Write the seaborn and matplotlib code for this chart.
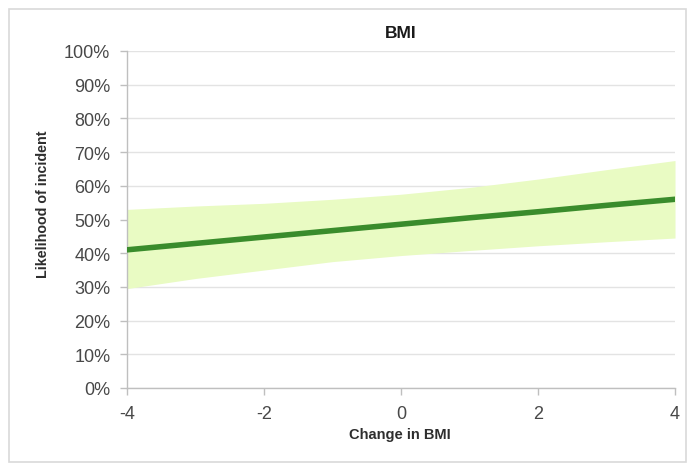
import matplotlib
matplotlib.use("Agg")
import matplotlib.pyplot as plt
from matplotlib.patches import Rectangle
from matplotlib.ticker import FuncFormatter, MultipleLocator
import numpy as np
import pandas as pd
import seaborn as sns

# Modelled likelihood of an incident against change in BMI
bmi_change = [-4, -3, -2, -1, 0, 1, 2, 3, 4]
likelihood = [41.0, 42.9, 44.8, 46.7, 48.6, 50.5, 52.3, 54.2, 56.0]
ci_upper = [53.0, 54.0, 54.8, 56.0, 57.5, 59.5, 62.0, 64.8, 67.5]
ci_lower = [29.5, 32.5, 35.0, 37.5, 39.3, 40.8, 42.2, 43.4, 44.5]
x_ticks = [-4, -2, 0, 2, 4]

df = pd.DataFrame({"bmi": bmi_change, "p": likelihood,
                   "lo": ci_lower, "hi": ci_upper})

sns.set_theme(style="white")
plt.rcParams["font.family"] = ["Liberation Sans", "DejaVu Sans"]

W, H = 689, 464
fig = plt.figure(figsize=(W / 100, H / 100), dpi=100)
fig.patches.append(Rectangle((9 / W, 1 / H), 677 / W, 453 / H,
                             transform=fig.transFigure, fill=False,
                             edgecolor="#d9d9d9", linewidth=1.2))
ax_left, ax_right, ax_top, ax_bottom = 127, 675, 52, 389
ax = fig.add_axes([ax_left / W, 1 - ax_bottom / H,
                   (ax_right - ax_left) / W, (ax_bottom - ax_top) / H])

ax.fill_between(df["bmi"], df["lo"], df["hi"], color="#e9fbc3",
                linewidth=0, zorder=2)
sns.lineplot(data=df, x="bmi", y="p", ax=ax, color="#3a8c2c",
             linewidth=4, zorder=3)

ax.set_xlim(-4, 4)
ax.set_ylim(0, 100)
ax.set_xticks(x_ticks)
ax.set_xticklabels([f"{t}" for t in x_ticks])
ax.yaxis.set_major_locator(MultipleLocator(10))
ax.yaxis.set_major_formatter(FuncFormatter(lambda v, _: f"{v:.0f}%"))

ax.grid(axis="y", color="#e3e3e3", linewidth=1, zorder=0)
ax.grid(axis="x", visible=False)
ax.set_axisbelow(True)
for side in ["top", "right"]:
    ax.spines[side].set_visible(False)
for side in ["left", "bottom"]:
    ax.spines[side].set_color("#bfbfbf")
    ax.spines[side].set_linewidth(1)

ax.tick_params(axis="both", which="major", direction="out", length=5,
               width=1, color="#bfbfbf", labelsize=13, labelcolor="#484848",
               bottom=True, left=True)
ax.tick_params(axis="x", pad=7)
ax.tick_params(axis="y", pad=7)

ax.text(0.5, (ax_bottom - 34) / (ax_bottom - ax_top), "BMI",
        transform=ax.transAxes, ha="center", va="center",
        fontsize=12.5, fontweight="bold", color="#1a1a1a")

ax.set_xlabel("Change in BMI", fontsize=10.5, fontweight="bold",
              color="#2e2e2e")
ax.xaxis.label.set_va("center")
ax.xaxis.set_label_coords((400 - ax_left) / (ax_right - ax_left),
                          (ax_bottom - 435) / (ax_bottom - ax_top))
ax.set_ylabel("Likelihood of incident", fontsize=10.3, fontweight="bold",
              color="#2e2e2e")
ax.yaxis.label.set_va("center")
ax.yaxis.set_label_coords((43 - ax_left) / (ax_right - ax_left),
                          (ax_bottom - 204) / (ax_bottom - ax_top))

fig.savefig("out.png", dpi=100, facecolor="white")
